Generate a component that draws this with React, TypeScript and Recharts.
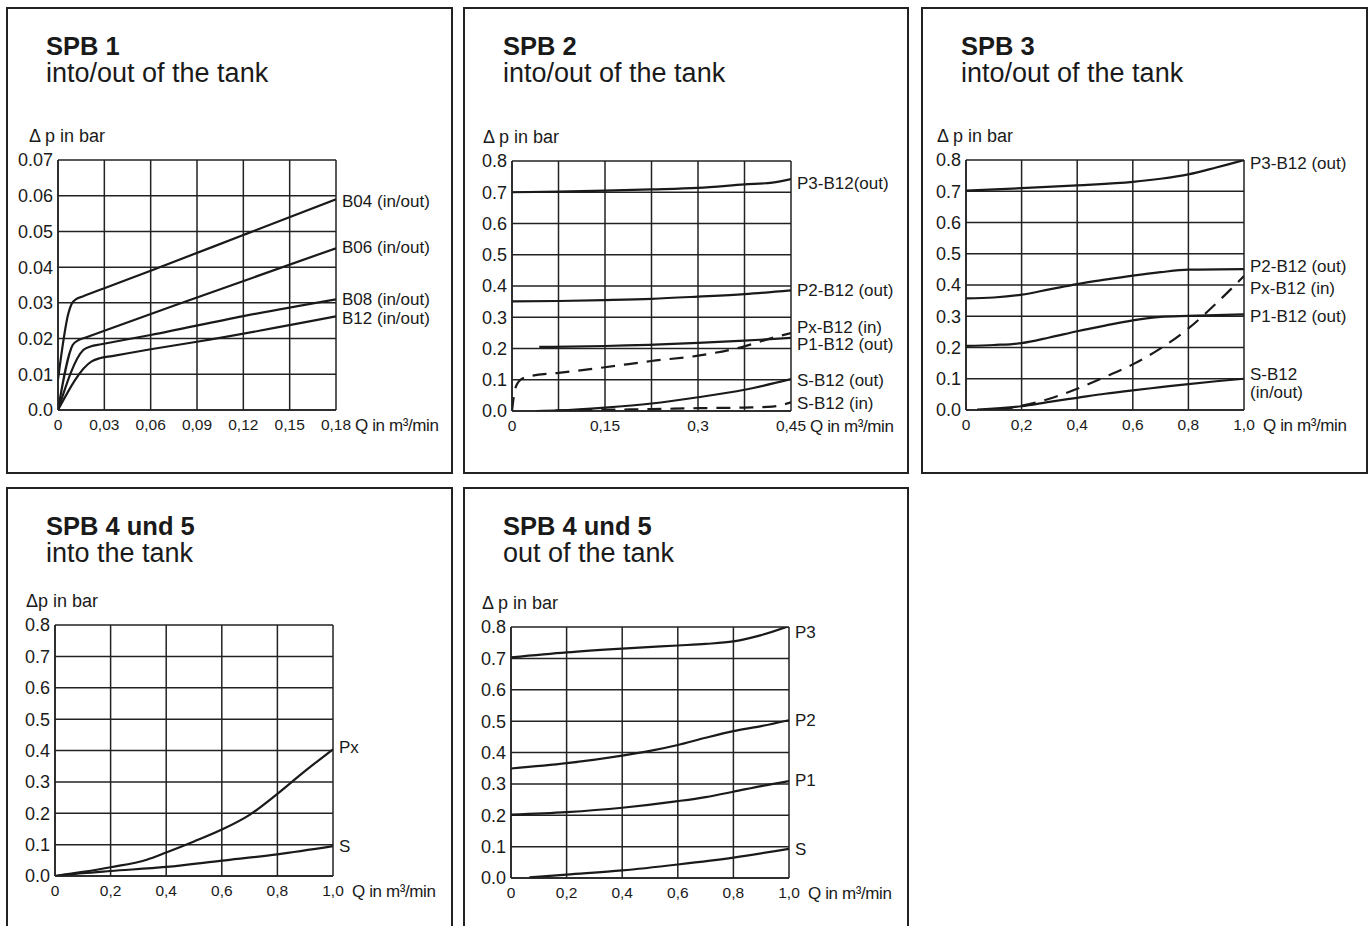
import { LineChart, Line, XAxis, YAxis, CartesianGrid } from "recharts";

type Pt = [number, number];

const FONT = '"Liberation Sans", Arial, Helvetica, sans-serif';
const INK = "#1a1a1a";

// axis ticks and their printed labels
const spb1QTicks = [0, 0.03, 0.06, 0.09, 0.12, 0.15, 0.18];
const spb1QLabels = ["0", "0,03", "0,06", "0,09", "0,12", "0,15", "0,18"];
const spb1DpTicks = [0, 0.01, 0.02, 0.03, 0.04, 0.05, 0.06, 0.07];
const spb1DpLabels = ["0.0", "0.01", "0.02", "0.03", "0.04", "0.05", "0.06", "0.07"];

const spb2QTicks = [0, 0.075, 0.15, 0.225, 0.3, 0.375, 0.45];
const spb2QLabels = ["0", "", "0,15", "", "0,3", "", "0,45"];

const qTicks = [0, 0.2, 0.4, 0.6, 0.8, 1];
const qLabels = ["0", "0,2", "0,4", "0,6", "0,8", "1,0"];
const dpTicks = [0, 0.1, 0.2, 0.3, 0.4, 0.5, 0.6, 0.7, 0.8];
const dpLabels = ["0.0", "0.1", "0.2", "0.3", "0.4", "0.5", "0.6", "0.7", "0.8"];

// SPB 1 — [Q, Δp]
const spb1B04: Pt[] = [[0, 0.0085], [0.0067, 0.027], [0.0088, 0.0297], [0.012, 0.0311], [0.016, 0.0318], [0.03, 0.0341], [0.06, 0.039], [0.12, 0.049], [0.18, 0.059]];
const spb1B06: Pt[] = [[0, 0], [0.0095, 0.0182], [0.013, 0.0195], [0.018, 0.0203], [0.03, 0.0222], [0.09, 0.0315], [0.18, 0.0453]];
const spb1B08: Pt[] = [[0, 0], [0.0164, 0.0168], [0.021, 0.0178], [0.028, 0.0184], [0.06, 0.021], [0.12, 0.0263], [0.18, 0.031]];
const spb1B12: Pt[] = [[0, 0], [0.0218, 0.0136], [0.027, 0.0145], [0.035, 0.0151], [0.06, 0.017], [0.09, 0.0191], [0.18, 0.0262]];

// SPB 2
const spb2P3: Pt[] = [[0, 0.7], [0.075, 0.702], [0.15, 0.705], [0.225, 0.709], [0.3, 0.714], [0.375, 0.725], [0.42, 0.731], [0.45, 0.742]];
const spb2P2: Pt[] = [[0, 0.351], [0.075, 0.352], [0.15, 0.355], [0.225, 0.359], [0.3, 0.366], [0.375, 0.374], [0.45, 0.386]];
const spb2Px: Pt[] = [[0, 0], [0.004, 0.06], [0.01, 0.092], [0.02, 0.107], [0.03, 0.112], [0.075, 0.122], [0.15, 0.14], [0.225, 0.16], [0.3, 0.177], [0.375, 0.207], [0.42, 0.234], [0.45, 0.249]];
const spb2P1: Pt[] = [[0.044, 0.205], [0.15, 0.208], [0.3, 0.218], [0.375, 0.225], [0.45, 0.234]];
const spb2SOut: Pt[] = [[0.039, 0], [0.075, 0.002], [0.15, 0.011], [0.225, 0.024], [0.3, 0.044], [0.375, 0.068], [0.45, 0.102]];
const spb2SIn: Pt[] = [[0.07, 0.001], [0.15, 0.004], [0.225, 0.006], [0.3, 0.009], [0.375, 0.011], [0.42, 0.014], [0.45, 0.028]];

// SPB 3
const spb3P3: Pt[] = [[0, 0.702], [0.2, 0.71], [0.4, 0.719], [0.6, 0.73], [0.7, 0.74], [0.8, 0.754], [0.9, 0.776], [1, 0.8]];
const spb3P2: Pt[] = [[0, 0.357], [0.1, 0.36], [0.2, 0.369], [0.3, 0.386], [0.4, 0.403], [0.5, 0.417], [0.6, 0.43], [0.7, 0.441], [0.8, 0.449], [1, 0.451]];
const spb3Px: Pt[] = [[0.12, 0.001], [0.2, 0.014], [0.3, 0.036], [0.4, 0.068], [0.5, 0.106], [0.6, 0.146], [0.7, 0.197], [0.8, 0.261], [0.9, 0.341], [1, 0.429]];
const spb3P1: Pt[] = [[0, 0.205], [0.1, 0.208], [0.2, 0.214], [0.3, 0.232], [0.4, 0.252], [0.5, 0.27], [0.6, 0.287], [0.7, 0.298], [0.8, 0.301], [1, 0.306]];
const spb3S: Pt[] = [[0.04, 0.001], [0.2, 0.012], [0.3, 0.026], [0.4, 0.039], [0.5, 0.052], [0.6, 0.063], [0.7, 0.073], [0.8, 0.083], [0.9, 0.092], [1, 0.1]];

// SPB 4 und 5, into the tank
const spb4Px: Pt[] = [[0, 0], [0.1, 0.013], [0.2, 0.028], [0.33, 0.052], [0.4, 0.075], [0.5, 0.11], [0.6, 0.148], [0.7, 0.195], [0.8, 0.262], [0.9, 0.335], [1, 0.404]];
const spb4S: Pt[] = [[0, 0], [0.1, 0.009], [0.2, 0.016], [0.4, 0.029], [0.6, 0.049], [0.8, 0.069], [1, 0.095]];

// SPB 4 und 5, out of the tank
const spb5P3: Pt[] = [[0, 0.703], [0.2, 0.719], [0.4, 0.731], [0.6, 0.741], [0.7, 0.746], [0.8, 0.754], [0.9, 0.774], [1, 0.803]];
const spb5P2: Pt[] = [[0, 0.349], [0.2, 0.366], [0.4, 0.39], [0.5, 0.405], [0.6, 0.424], [0.7, 0.447], [0.8, 0.468], [0.9, 0.484], [1, 0.503]];
const spb5P1: Pt[] = [[0, 0.202], [0.2, 0.21], [0.4, 0.224], [0.6, 0.245], [0.7, 0.258], [0.8, 0.275], [0.9, 0.293], [1, 0.309]];
const spb5S: Pt[] = [[0.066, 0.002], [0.2, 0.011], [0.4, 0.024], [0.6, 0.043], [0.8, 0.065], [1, 0.093]];

interface Series {
  label: string[];
  points: Pt[];
  dashed?: boolean;
  labelDy?: number;
}

interface Rect { x: number; y: number; w: number; h: number }

interface Panel {
  title: string;
  subtitle: string;
  dpTitle: string;
  box: Rect;
  plot: { left: number; top: number; right: number; bottom: number };
  xTicks: number[];
  xLabels: string[];
  yTicks: number[];
  yLabels: string[];
  series: Series[];
}

const panels: Panel[] = [
  {
    title: "SPB 1",
    subtitle: "into/out of the tank",
    dpTitle: "Δ p in bar",
    box: { x: 7, y: 8, w: 445, h: 465 },
    plot: { left: 58, top: 160, right: 336, bottom: 410 },
    xTicks: spb1QTicks,
    xLabels: spb1QLabels,
    yTicks: spb1DpTicks,
    yLabels: spb1DpLabels,
    series: [
      { label: ["B04 (in/out)"], points: spb1B04, labelDy: 2 },
      { label: ["B06 (in/out)"], points: spb1B06, labelDy: -1 },
      { label: ["B08 (in/out)"], points: spb1B08 },
      { label: ["B12 (in/out)"], points: spb1B12, labelDy: 2 },
    ],
  },
  {
    title: "SPB 2",
    subtitle: "into/out of the tank",
    dpTitle: "Δ p in bar",
    box: { x: 464, y: 8, w: 444, h: 465 },
    plot: { left: 512, top: 161, right: 791, bottom: 411 },
    xTicks: spb2QTicks,
    xLabels: spb2QLabels,
    yTicks: dpTicks,
    yLabels: dpLabels,
    series: [
      { label: ["P3-B12(out)"], points: spb2P3, labelDy: 4 },
      { label: ["P2-B12 (out)"], points: spb2P2 },
      { label: ["Px-B12 (in)"], points: spb2Px, dashed: true, labelDy: -6 },
      { label: ["P1-B12 (out)"], points: spb2P1, labelDy: 6 },
      { label: ["S-B12 (out)"], points: spb2SOut, labelDy: 1 },
      { label: ["S-B12 (in)"], points: spb2SIn, dashed: true, labelDy: 1 },
    ],
  },
  {
    title: "SPB 3",
    subtitle: "into/out of the tank",
    dpTitle: "Δ p in bar",
    box: { x: 922, y: 8, w: 445, h: 465 },
    plot: { left: 966, top: 160, right: 1244, bottom: 410 },
    xTicks: qTicks,
    xLabels: qLabels,
    yTicks: dpTicks,
    yLabels: dpLabels,
    series: [
      { label: ["P3-B12 (out)"], points: spb3P3, labelDy: 3 },
      { label: ["P2-B12 (out)"], points: spb3P2, labelDy: -3 },
      { label: ["Px-B12 (in)"], points: spb3Px, dashed: true, labelDy: 12 },
      { label: ["P1-B12 (out)"], points: spb3P1, labelDy: 2 },
      { label: ["S-B12", "(in/out)"], points: spb3S, labelDy: -5 },
    ],
  },
  {
    title: "SPB 4 und 5",
    subtitle: "into the tank",
    dpTitle: "Δp in bar",
    box: { x: 7, y: 488, w: 445, h: 460 },
    plot: { left: 55, top: 625, right: 333, bottom: 876 },
    xTicks: qTicks,
    xLabels: qLabels,
    yTicks: dpTicks,
    yLabels: dpLabels,
    series: [
      { label: ["Px"], points: spb4Px, labelDy: -2 },
      { label: ["S"], points: spb4S },
    ],
  },
  {
    title: "SPB 4 und 5",
    subtitle: "out of the tank",
    dpTitle: "Δ p in bar",
    box: { x: 464, y: 488, w: 444, h: 460 },
    plot: { left: 511, top: 627, right: 789, bottom: 878 },
    xTicks: qTicks,
    xLabels: qLabels,
    yTicks: dpTicks,
    yLabels: dpLabels,
    series: [
      { label: ["P3"], points: spb5P3, labelDy: 6 },
      { label: ["P2"], points: spb5P2 },
      { label: ["P1"], points: spb5P1, labelDy: -1 },
      { label: ["S"], points: spb5S },
    ],
  },
];

const Y_W = 40;
const X_H = 30;
const GRID = "#222";

function endLabel(s: Series) {
  return (props: any) => {
    if (props.index !== s.points.length - 1) return null;
    const x = (props.x ?? props.viewBox?.x) + 6;
    const y = (props.y ?? props.viewBox?.y) + (s.labelDy ?? 0);
    return (
      <text x={x} y={y} fontSize={17} fill={INK} fontFamily={FONT} dominantBaseline="central">
        {s.label.map((t, i) => (
          <tspan key={i} x={x} dy={i === 0 ? 0 : 18}>
            {t}
          </tspan>
        ))}
      </text>
    );
  };
}

function PanelChart({ p }: { p: Panel }) {
  const { box, plot } = p;
  const margin = {
    top: plot.top - box.y,
    left: plot.left - box.x - Y_W,
    right: box.x + box.w - plot.right,
    bottom: box.y + box.h - plot.bottom - X_H,
  };
  const xMax = p.xTicks[p.xTicks.length - 1];
  const yMax = p.yTicks[p.yTicks.length - 1];
  return (
    <div style={{ position: "absolute", left: box.x, top: box.y }}>
      <LineChart width={box.w} height={box.h} margin={margin}>
        <CartesianGrid stroke={GRID} strokeWidth={1.5} />
        <XAxis
          type="number"
          dataKey="q"
          domain={[0, xMax]}
          ticks={p.xTicks}
          interval={0}
          allowDataOverflow
          height={X_H}
          tickSize={0}
          tickMargin={9}
          tickLine={false}
          axisLine={{ stroke: GRID, strokeWidth: 1.5 }}
          tick={{ fontSize: 15.5, fill: INK, fontFamily: FONT }}
          tickFormatter={(_v: number, i: number) => p.xLabels[i]}
        />
        <YAxis
          type="number"
          dataKey="dp"
          domain={[0, yMax]}
          ticks={p.yTicks}
          interval={0}
          allowDataOverflow
          width={Y_W}
          tickSize={0}
          tickMargin={5}
          tickLine={false}
          axisLine={{ stroke: GRID, strokeWidth: 1.5 }}
          tick={{ fontSize: 18, fill: INK, fontFamily: FONT }}
          tickFormatter={(_v: number, i: number) => p.yLabels[i]}
        />
        {p.series.map((s) => (
          <Line
            key={s.label.join(" ")}
            data={s.points.map(([q, dp]) => ({ q, dp }))}
            dataKey="dp"
            type="monotone"
            stroke={INK}
            strokeWidth={2.2}
            strokeDasharray={s.dashed ? "14 9" : undefined}
            dot={false}
            activeDot={false}
            isAnimationActive={false}
            label={endLabel(s)}
          />
        ))}
      </LineChart>
    </div>
  );
}

function PanelText({ p }: { p: Panel }) {
  const { box, plot } = p;
  return (
    <g fontFamily={FONT} fill={INK}>
      <rect x={box.x} y={box.y} width={box.w} height={box.h} fill="none" stroke="#222" strokeWidth={2} />
      <text x={box.x + 39} y={box.y + 47} fontSize={25.5} fontWeight="bold">
        {p.title}
      </text>
      <text x={box.x + 39} y={box.y + 74} fontSize={27}>
        {p.subtitle}
      </text>
      <text x={plot.left - 29} y={plot.top - 18} fontSize={18}>
        {p.dpTitle}
      </text>
      <text x={plot.right + 19} y={plot.bottom + 21} fontSize={17} letterSpacing={-0.4}>
        Q in m³/min
      </text>
    </g>
  );
}

export default function App() {
  return (
    <div style={{ position: "absolute", left: 0, top: 0, width: 1372, height: 926, overflow: "hidden", background: "#fff" }}>
      <svg width={1372} height={926} style={{ position: "absolute", left: 0, top: 0 }}>
        {panels.map((p, i) => (
          <PanelText key={i} p={p} />
        ))}
      </svg>
      {panels.map((p, i) => (
        <PanelChart key={i} p={p} />
      ))}
    </div>
  );
}
